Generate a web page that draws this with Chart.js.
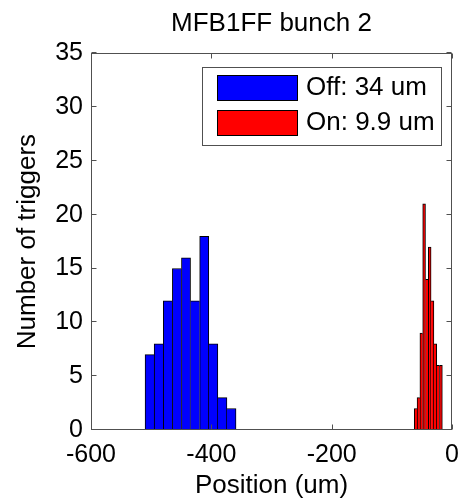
<!DOCTYPE html>
<html>
<head>
<meta charset="utf-8">
<title>MFB1FF bunch 2</title>
<script src="https://cdn.jsdelivr.net/npm/chart.js@4.4.0/dist/chart.umd.min.js"></script>
<style>
  html, body { margin: 0; padding: 0; background: #fff; }
  canvas { display: block; }
</style>
</head>
<body>
<canvas id="histo" width="459" height="501"></canvas>
<script>
// bin centres (um) and counts
const offCentres = [-502.6, -487.5, -472.3, -457.2, -442.1, -427.0, -411.8, -396.7, -381.6, -366.5];
const offCounts  = [7, 8, 12, 15, 16, 12, 18, 8, 3, 2];
const onCentres  = [-60.4, -55.7, -51.0, -46.4, -41.7, -37.1, -32.4, -27.7, -23.1, -18.4];
const onCounts   = [2, 3, 9, 21, 14, 17, 12, 8, 6, 6];

const seriesLabels = ['Off: 34 um', 'On: 9.9 um'];
const xTicks = [-600, -400, -200, 0];
const yTicks = [0, 5, 10, 15, 20, 25, 30, 35];

const family = '"Liberation Sans", Arial, Helvetica, sans-serif';
const axisColour = '#505050';
const tickLen = 5;

Chart.defaults.font.family = family;
Chart.defaults.color = '#000';

function toPoints(xs, ys) {
    return xs.map((x, i) => ({ x: x, y: ys[i] }));
}

// outline every bar like matlab does, but draw a shared edge only once
function edgeWidths(ctx) {
    if (ctx.type !== 'data') return 1;
    const d = ctx.dataset.data;
    const i = ctx.dataIndex;
    return {
        top: 1,
        left: (i === 0 || d[i].y >= d[i - 1].y) ? 1 : 0,
        right: (i === d.length - 1 || d[i].y > d[i + 1].y) ? 1 : 0,
        bottom: 0
    };
}

// box round the axes, inward ticks and the framed key in the top right
const frameAndKey = {
    id: 'frameAndKey',
    afterDatasetsDraw(chart) {
        const { ctx, chartArea: a, scales } = chart;
        ctx.save();
        ctx.strokeStyle = axisColour;
        ctx.lineWidth = 1;
        const L = Math.round(a.left) + 0.5, R = Math.round(a.right) - 0.5;
        const T = Math.round(a.top) + 0.5, B = Math.round(a.bottom) - 0.5;
        ctx.strokeRect(L, T, R - L, B - T);
        ctx.beginPath();
        scales.x.ticks.forEach(t => {
            const px = Math.round(scales.x.getPixelForValue(t.value)) + 0.5;
            ctx.moveTo(px, B); ctx.lineTo(px, B - tickLen);
            ctx.moveTo(px, T); ctx.lineTo(px, T + tickLen);
        });
        scales.y.ticks.forEach(t => {
            const py = Math.round(scales.y.getPixelForValue(t.value)) - 0.5;
            ctx.moveTo(L, py); ctx.lineTo(L + tickLen, py);
            ctx.moveTo(R, py); ctx.lineTo(R - tickLen, py);
        });
        ctx.stroke();

        const kx = Math.round(a.right) - 250, ky = Math.round(a.top) + 14;
        const kw = 239, kh = 78;
        ctx.fillStyle = '#fff';
        ctx.fillRect(kx, ky, kw, kh);
        ctx.strokeRect(kx + 0.5, ky + 0.5, kw, kh);
        ctx.font = '26px ' + family;
        ctx.textBaseline = 'middle';
        ctx.textAlign = 'left';
        chart.data.datasets.forEach((ds, i) => {
            const sy = ky + 8 + i * 35;
            ctx.fillStyle = ds.backgroundColor;
            ctx.fillRect(kx + 15, sy, 80, 25);
            ctx.strokeStyle = '#000';
            ctx.strokeRect(kx + 15.5, sy + 0.5, 80, 25);
            ctx.fillStyle = '#000';
            ctx.fillText(ds.label, kx + 104, sy + 13);
        });
        ctx.restore();
    }
};

const barStyle = {
    borderColor: '#000',
    borderWidth: edgeWidths,
    borderSkipped: false,
    barThickness: 'flex',
    categoryPercentage: 1,
    barPercentage: 1
};

new Chart(document.getElementById('histo').getContext('2d'), {
    type: 'bar',
    data: {
        datasets: [
            Object.assign({ label: seriesLabels[0], data: toPoints(offCentres, offCounts), backgroundColor: '#0000ff' }, barStyle),
            Object.assign({ label: seriesLabels[1], data: toPoints(onCentres, onCounts), backgroundColor: '#ff0000' }, barStyle)
        ]
    },
    options: {
        responsive: false,
        animation: false,
        layout: { padding: { left: 0, right: 0, top: 0, bottom: 0 } },
        plugins: {
            legend: { display: false },
            tooltip: { enabled: false },
            title: {
                display: true,
                text: 'MFB1FF bunch 2',
                fullSize: false,
                color: '#000',
                font: { size: 26, weight: 'normal' },
                padding: { top: 8, bottom: 14 }
            }
        },
        scales: {
            x: {
                type: 'linear',
                min: -600,
                max: 0,
                offset: false,
                stacked: true,
                grid: { display: false, drawTicks: false },
                border: { display: false },
                afterBuildTicks: s => { s.ticks = xTicks.map(v => ({ value: v })); },
                ticks: { padding: 10, font: { size: 25 }, color: '#000' },
                title: { display: true, text: 'Position (um)', font: { size: 26 }, color: '#000', padding: 0 },
                afterFit: s => { s.height = 71; s.paddingLeft = 0; s.paddingRight = 7; }
            },
            y: {
                min: 0,
                max: 35,
                stacked: false,
                grid: { display: false, drawTicks: false },
                border: { display: false },
                afterBuildTicks: s => { s.ticks = yTicks.map(v => ({ value: v })); },
                ticks: { padding: 8, font: { size: 25 }, color: '#000' },
                title: { display: true, text: 'Number of triggers', font: { size: 26 }, color: '#000', padding: { top: 12, bottom: 0 } },
                afterFit: s => { s.width = 91; }
            }
        }
    },
    plugins: [frameAndKey]
});
</script>
</body>
</html>
